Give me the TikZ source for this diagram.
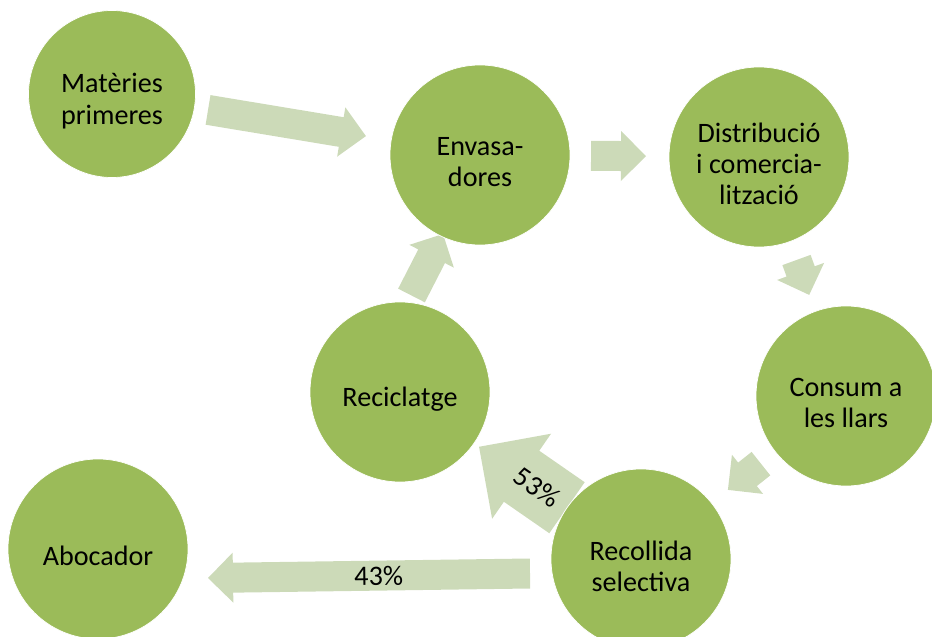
\documentclass[tikz,border=0pt]{standalone}
\usepackage{fontspec}
\setmainfont{Carlito}
\usetikzlibrary{calc,backgrounds}
\definecolor{stagegreen}{RGB}{155,187,89}
\definecolor{flowgreen}{RGB}{204,218,184}
\tikzset{
  stage/.style={circle, fill=stagegreen, draw=white, thin, minimum size=3.6cm, inner sep=0pt},
  stagetext/.style={align=center, inner sep=0pt, yshift=-0.14cm},
  flow/.style={fill=flowgreen},
}
% block arrow: [size]{tail}{tip}
\newcommand\blockarrow[3][1]{%
  \coordinate (ta) at (#2);
  \coordinate (tb) at (#3);
  \coordinate (hb) at ($(tb)!#1*0.5cm!(ta)$);
  \fill[flow] ($(ta)!#1*0.3cm!90:(tb)$) -- ($(hb)!#1*0.3cm!90:(tb)$)
    -- ($(hb)!#1*0.5cm!90:(tb)$) -- (tb) -- ($(hb)!#1*0.5cm!-90:(tb)$)
    -- ($(hb)!#1*0.3cm!-90:(tb)$) -- ($(ta)!#1*0.3cm!-90:(tb)$) -- cycle;
}
\begin{document}
\begin{tikzpicture}[font=\fontsize{16}{17.8}\selectfont, line join=round]
\useasboundingbox (0,0) rectangle (18.64,12.72);
\node[stage, minimum size=3.34cm] (mat) at (2.24,10.84) {};
\node[stage] (env) at (9.60,9.62) {};
\node[stage] (dist) at (15.18,9.58) {};
\node[stage] (cons) at (16.92,4.80) {};
\node[stage] (rsel) at (12.82,1.54) {};
\node[stage] (recic) at (8.00,4.88) {};
\node[stage] (aboc) at (1.96,1.74) {};
\node[stagetext] at (mat) {Matèries\\primeres};
\node[stagetext] at (env) {Envasa-\\dores};
\node[stagetext] at (dist) {Distribució\\i comercia-\\lització};
\node[stagetext] at (cons) {Consum a\\les llars};
\node[stagetext] at (rsel) {Recollida\\selectiva};
\node[stagetext] at (recic) {Reciclatge};
\node[stagetext] at (aboc) {Abocador};
\coordinate (tail43) at (10.60,1.25);
\coordinate (tip43) at (4.16,1.16);
\coordinate (tailrc) at (8.23,6.81);
\coordinate (tiprc) at (8.86,8.04);
\begin{scope}[on background layer]
\blockarrow{$(mat)!0.261!(env)$}{$(mat)!0.69!(env)$}
\blockarrow{$(env)!0.398!(dist)$}{$(env)!0.595!(dist)$}
\blockarrow{$(dist)!0.431!(cons)$}{$(dist)!0.577!(cons)$}
\blockarrow{$(cons)!0.415!(rsel)$}{$(cons)!0.576!(rsel)$}
\blockarrow[2.07]{$(rsel)!0.307!(recic)$}{$(rsel)!0.672!(recic)$}
\path (ta) -- (tb) node[pos=0.34, sloped] {53\%};
\blockarrow{tail43}{tip43}
\path (ta) -- (tb) node[pos=0.47, sloped] {43\%};
\blockarrow{tailrc}{tiprc}
\end{scope}
\end{tikzpicture}
\end{document}
